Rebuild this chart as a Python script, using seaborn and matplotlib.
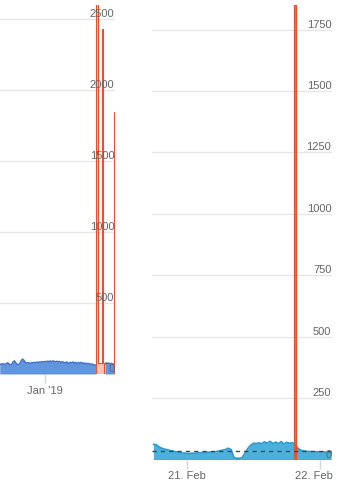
import numpy as np
import pandas as pd
import matplotlib
matplotlib.use("Agg")
import matplotlib.pyplot as plt
import matplotlib.dates as mdates
from matplotlib.transforms import ScaledTranslation
import seaborn as sns

# ---------------- data ----------------
left_dates = pd.date_range("2018-11-28", periods=87, freq="D")
left_blue = [70, 68, 72, 70, 66, 74, 78, 70, 63, 68, 85, 92, 80, 68, 65, 72, 90, 104, 98, 84,
             76, 80, 78, 75, 80, 78, 82, 79, 83, 81, 85, 83, 87, 84, 88, 86, 90, 87, 91, 86,
             92, 88, 85, 90, 84, 88, 80, 86, 82, 76, 84, 80, 72, 82, 78, 84, 76, 82, 72, 80,
             76, 82, 74, 78, 70, 76, 72, 74, 68, 70, 66, 64, 62,
             np.nan, np.nan, np.nan, np.nan, np.nan, np.nan,
             70, 78, 74, 76, 72, 74, 70, 68]
left_red = [0] * 73 + [2650, 75, 75, 75, 2430, 75] + [0] * 7 + [1845]

right_dates = pd.date_range("2019-02-20 18:00", periods=65, freq="30min")
right_blue = [62, 60, 52, 46, 42, 40, 36, 35, 31, 30, 27, 26, 25, 24, 26, 25, 27, 28, 27, 29,
              30, 29, 31, 33, 36, 38, 41, 46, 40, 8, 5, 5, 8, 28, 45, 58, 66, 65, 68, 64,
              72, 66, 74, 65, 71, 64, 73, 63, 70, 66, 68, 62, 46, 38, 35, 33, 33, 32, 31, 32,
              30, 31, 30, 29, 28]
right_red = [0] * 51 + [1848] + [0] * 13
right_threshold = 35

left_yticks = [0, 500, 1000, 1500, 2000, 2500]
right_yticks = [0, 250, 500, 750, 1000, 1250, 1500, 1750]
left_xtick_dates = ["2019-01-01"]
left_xtick_labels = ["Jan '19"]
right_xtick_dates = ["2019-02-21", "2019-02-22"]
right_xtick_labels = ["21. Feb", "22. Feb"]

# ---------------- style ----------------
sns.set_theme(style="white")
plt.rcParams["font.family"] = ["Liberation Sans", "DejaVu Sans"]

W, H = 339, 490
fig = plt.figure(figsize=(W / 100, H / 100), dpi=100)


def px_axes(x0, y0, x1, y1):
    return fig.add_axes([x0 / W, 1 - y1 / H, (x1 - x0) / W, (y1 - y0) / H])


axL = px_axes(0, 5, 115, 374)
axR = px_axes(152, 5, 332, 459.5)

RED = "#e2542f"
GRID = "#e6e6e6"
TXT = "#666666"


def draw_blue(ax, x, y, fill, line):
    y = np.asarray(y, dtype=float)
    ok = ~np.isnan(y)
    idx = np.where(ok)[0]
    runs = np.split(idx, np.where(np.diff(idx) != 1)[0] + 1)
    for r in runs:
        if len(r) == 0:
            continue
        ax.fill_between(x[r], 0, y[r], color=fill, lw=0, zorder=1)
        sns.lineplot(x=x[r], y=y[r], ax=ax, color=line, linewidth=1.2,
                     estimator=None, sort=False, zorder=2)


def draw_red(ax, x, y, lw, alpha):
    y = np.asarray(y, dtype=float)
    ax.fill_between(x, 0, y, color=RED, alpha=alpha, lw=0, zorder=3, step="mid")
    sns.lineplot(x=x, y=y, ax=ax, color=RED, linewidth=lw,
                 estimator=None, sort=False, zorder=3.5, drawstyle="steps-mid")


xl = mdates.date2num(left_dates.to_pydatetime())
xr = mdates.date2num(right_dates.to_pydatetime())

draw_blue(axL, xl, left_blue, "#6196de", "#4477cc")
draw_red(axL, xl, left_red, 0.8, 0.35)

draw_blue(axR, xr, right_blue, "#4cb0dc", "#2a9bd0")
draw_red(axR, xr, right_red, 0.9, 0.8)
axR.axhline(right_threshold, color="#444444", lw=1, ls=(0, (3, 3)), zorder=4)

jan1 = mdates.date2num(pd.Timestamp("2019-01-01").to_pydatetime())
feb21 = mdates.date2num(pd.Timestamp("2019-02-21").to_pydatetime())
axL.set_xlim(jan1 - 33.8, jan1 + 52.55)
axR.set_xlim(feb21 - 6.25 / 24, feb21 + 26.15 / 24)
axL.set_ylim(0, 2600)
axR.set_ylim(0, 1850)


def style(ax, yticks, xtick_dates, xtick_labels):
    for s in ax.spines.values():
        s.set_visible(False)
    ax.grid(False)
    for t in yticks:
        ax.axhline(t, color=GRID, lw=1, zorder=0)
    ax.set_xlabel("")
    ax.set_ylabel("")
    ax.yaxis.tick_right()
    ax.set_yticks(yticks)
    ax.set_yticklabels([str(t) for t in yticks])
    ax.tick_params(axis="y", length=0, pad=-0.5, labelsize=8, labelcolor=TXT,
                   left=False, right=False, labelleft=False, labelright=True)
    for lab in ax.get_yticklabels():
        lab.set_ha("right")
        lab.set_va("bottom")
    xt = [mdates.date2num(pd.Timestamp(d).to_pydatetime()) for d in xtick_dates]
    ax.set_xticks(xt)
    ax.set_xticklabels(xtick_labels)
    ax.tick_params(axis="x", bottom=True, length=6.8, width=1, color="#ccd6eb",
                   pad=1.5, labelsize=8, labelcolor=TXT)
    ax.yaxis.set_zorder(5)
    ax.patch.set_alpha(0)


style(axL, left_yticks, left_xtick_dates, left_xtick_labels)
style(axR, right_yticks, right_xtick_dates, right_xtick_labels)

# keep the last date label inside the plot edge (as the reference does)
last = axR.get_xticklabels()[-1]
last.set_transform(last.get_transform() + ScaledTranslation(-6.5 / 100, 0, fig.dpi_scale_trans))

fig.savefig("out.png", dpi=100)
